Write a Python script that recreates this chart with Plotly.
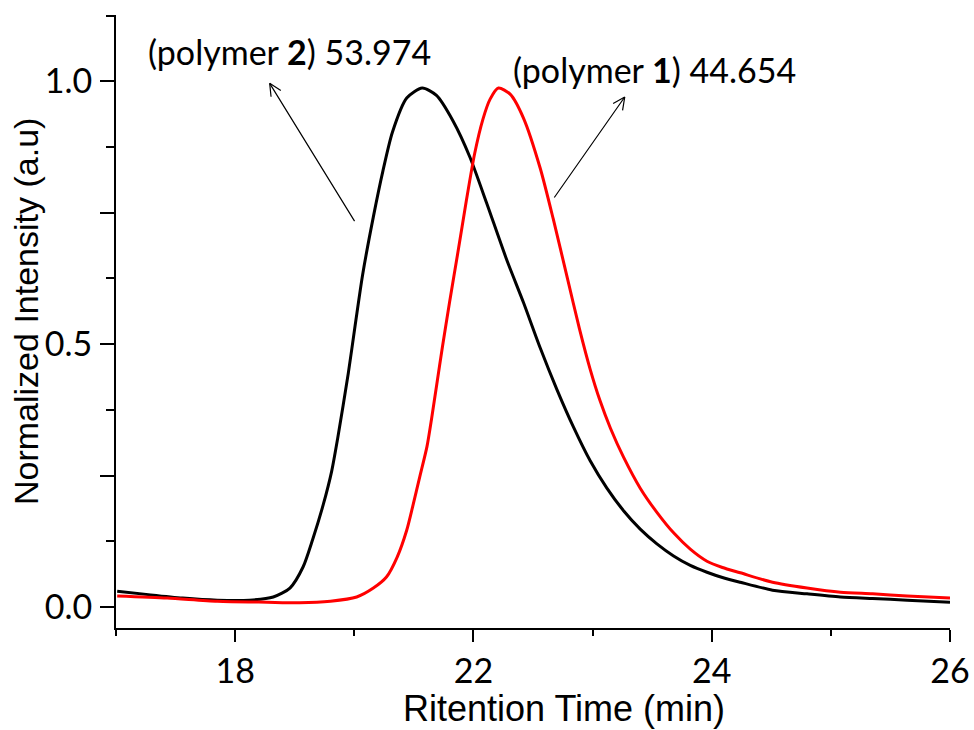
import math
import plotly.graph_objects as go

# ---- data ----
black_x = [19.01, 19.29, 19.56, 19.85, 20.12, 20.32, 20.46, 20.57, 20.65, 20.74, 20.81, 20.86, 20.95,
           21.01, 21.07, 21.16, 21.24, 21.32, 21.44, 21.57, 21.69, 21.83, 21.97, 22.11, 22.28, 22.42,
           22.56, 22.70, 22.84, 22.98, 23.12, 23.26, 23.40, 23.54, 23.68, 23.82, 23.96, 24.09, 24.24,
           24.51, 24.80, 25.08, 25.35, 25.64, 26.0]
black_y = [0.030, 0.023, 0.017, 0.013, 0.013, 0.019, 0.036, 0.076, 0.128, 0.195, 0.258, 0.320, 0.445,
           0.540, 0.632, 0.742, 0.829, 0.903, 0.968, 0.987, 0.973, 0.924, 0.856, 0.769, 0.660, 0.579,
           0.493, 0.414, 0.342, 0.278, 0.226, 0.183, 0.148, 0.120, 0.097, 0.079, 0.066, 0.056, 0.047,
           0.032, 0.025, 0.019, 0.016, 0.013, 0.009]

red_x = [19.01, 19.43, 19.85, 20.27, 20.54, 20.80, 21.02, 21.16, 21.27, 21.36, 21.44, 21.49, 21.55,
         21.61, 21.65, 21.69, 21.74, 21.80, 21.87, 21.94, 22.01, 22.08, 22.14, 22.21, 22.31, 22.42,
         22.56, 22.67, 22.79, 22.89, 22.98, 23.06, 23.15, 23.26, 23.40, 23.54, 23.68, 23.82, 23.96,
         24.09, 24.24, 24.51, 24.80, 25.08, 25.35, 25.64, 26.0]
red_y = [0.021, 0.017, 0.011, 0.009, 0.008, 0.011, 0.019, 0.036, 0.057, 0.095, 0.146, 0.191, 0.248,
         0.305, 0.360, 0.420, 0.495, 0.580, 0.675, 0.772, 0.862, 0.928, 0.966, 0.987, 0.975, 0.930,
         0.835, 0.738, 0.624, 0.529, 0.452, 0.394, 0.340, 0.285, 0.226, 0.180, 0.141, 0.110, 0.087,
         0.075, 0.065, 0.047, 0.036, 0.028, 0.025, 0.021, 0.017]

x_tickvals = [20, 22, 24, 26]
x_ticktext = ["18", "22", "24", "26"]
y_tickvals = [0, 0.25, 0.5, 0.75, 1.0]
y_ticktext = ["0.0", "", "0.5", "", "1.0"]

labels = ["(polymer <b>2</b>) 53.974", "(polymer <b>1</b>) 44.654"]
label_pos = [(20.46, 1.057), (23.52, 1.023)]
arrow_tail = [(21.01, 0.731), (22.67, 0.776)]
arrow_head = [(20.29, 0.996), (23.27, 0.970)]

x_range = [19, 26]
y_range = [-0.04, 1.126]
W, H = 974, 730
M = dict(l=116, r=24, t=15, b=102)

CAL = "Lato, 'Open Sans', sans-serif"
TICK_FONT = dict(family=CAL, size=34, color="black")
XTITLE_FONT = dict(family="'Liberation Sans', Arial, sans-serif", size=36, color="black")
YTITLE_FONT = dict(family="'Liberation Sans', Arial, sans-serif", size=34, color="black")

fig = go.Figure()
fig.add_trace(go.Scatter(x=black_x, y=black_y, mode="lines",
                         line=dict(color="black", width=3, shape="spline", smoothing=0.7),
                         name="polymer 2"))
fig.add_trace(go.Scatter(x=red_x, y=red_y, mode="lines",
                         line=dict(color="#ff0000", width=3, shape="spline", smoothing=0.7),
                         name="polymer 1"))

# pixel scales for arrowhead barbs
pw = W - M["l"] - M["r"]
ph = H - M["t"] - M["b"]
sx = pw / (x_range[1] - x_range[0])
sy = ph / (y_range[1] - y_range[0])

annotations = []
for (tx, ty), (hx, hy) in zip(arrow_tail, arrow_head):
    annotations.append(dict(x=hx, y=hy, ax=tx, ay=ty, xref="x", yref="y", axref="x", ayref="y",
                            text="", showarrow=True, arrowhead=0, arrowwidth=1.2,
                            arrowcolor="black"))
    dxp = (tx - hx) * sx
    dyp = -(ty - hy) * sy
    L = math.hypot(dxp, dyp)
    ux, uy = dxp / L, dyp / L
    for ang in (0.45, -0.45):
        rx = ux * math.cos(ang) - uy * math.sin(ang)
        ry = ux * math.sin(ang) + uy * math.cos(ang)
        annotations.append(dict(x=hx, y=hy, ax=rx * 15, ay=ry * 15, xref="x", yref="y",
                                axref="pixel", ayref="pixel", text="", showarrow=True,
                                arrowhead=0, arrowwidth=1.2, arrowcolor="black"))

for txt, (lx, ly) in zip(labels, label_pos):
    annotations.append(dict(x=lx, y=ly, xref="x", yref="y", text=txt, showarrow=False,
                            xanchor="center", yanchor="middle",
                            font=dict(family=CAL, size=34, color="black")))

annotations.append(dict(x=(564 - M["l"]) / pw, y=-(708 - (H - M["b"])) / ph, xref="paper",
                        yref="paper", text="Ritention Time (min)", showarrow=False,
                        xanchor="center", yanchor="middle", font=XTITLE_FONT))
annotations.append(dict(x=(26 - M["l"]) / pw, y=((H - M["b"]) - 312) / ph, xref="paper",
                        yref="paper", text="Normalized Intensity (a.u)", showarrow=False,
                        textangle=-90, xanchor="center", yanchor="middle", font=YTITLE_FONT))

fig.update_layout(
    width=W, height=H, margin=M,
    paper_bgcolor="white", plot_bgcolor="white",
    showlegend=False,
    annotations=annotations,
    xaxis=dict(range=x_range, showgrid=False, zeroline=False, showline=True, automargin=False,
               linecolor="black", linewidth=2, ticks="outside", ticklen=12, tickwidth=2,
               tickcolor="black", tickvals=x_tickvals, ticktext=x_ticktext,
               tickfont=TICK_FONT, ticklabelstandoff=0,
               minor=dict(ticks="outside", ticklen=6, tickwidth=2, tickcolor="black",
                          dtick=1, tick0=19, showgrid=False)),
    yaxis=dict(range=y_range, showgrid=False, zeroline=False, showline=True, automargin=False,
               linecolor="black", linewidth=2, ticks="outside", ticklen=14, tickwidth=2,
               tickcolor="black", tickvals=y_tickvals, ticktext=y_ticktext,
               tickfont=TICK_FONT, ticklabelstandoff=1,
               minor=dict(ticks="outside", ticklen=8, tickwidth=2, tickcolor="black",
                          dtick=0.125, tick0=0, showgrid=False)),
)

fig.write_html("out.html")
